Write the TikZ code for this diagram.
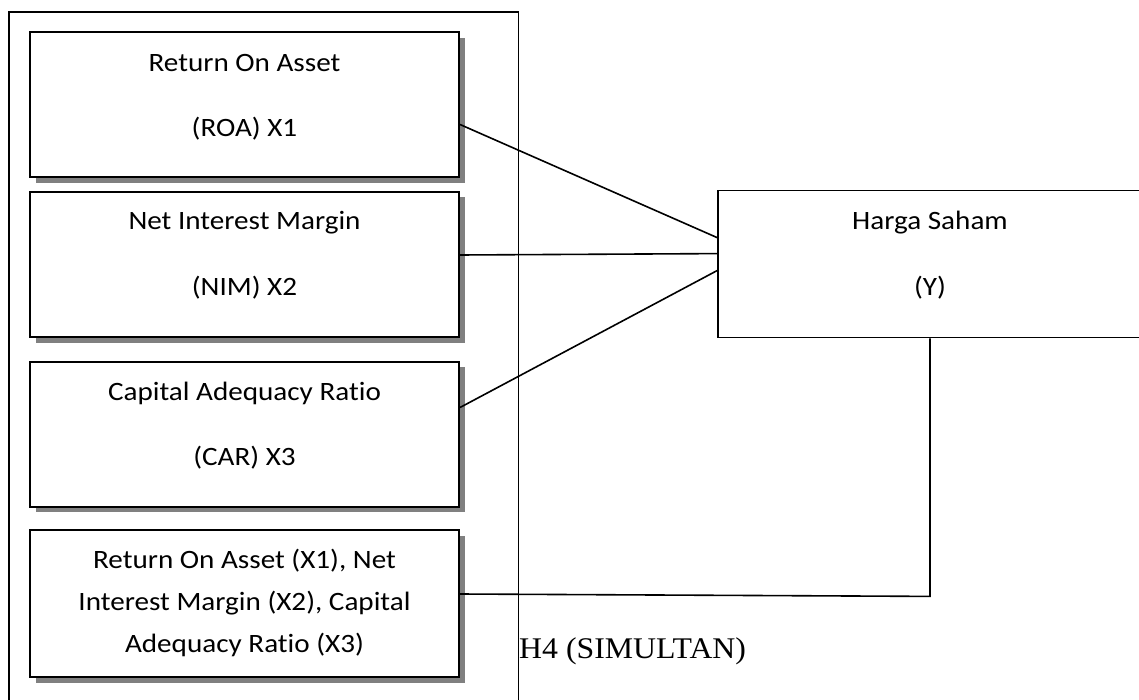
\documentclass[tikz,border=0pt]{standalone}
\usepackage{graphicx}
\usepackage{fontspec}
\setmainfont{Carlito}[Ligatures={NoCommon,NoRequired,NoContextual}]
\newfontfamily\timesfont{Liberation Serif}
\usetikzlibrary{calc,shadows}
\newcommand{\widetext}[1]{\scalebox{1.1}[1]{#1}}
\newcommand{\widetimes}[1]{\scalebox{1.06}[1]{#1}}
\tikzset{
  varbox/.style={draw=black, line width=2pt, fill=white, minimum width=429pt, minimum height=145pt, inner sep=0pt,
    drop shadow={shadow xshift=5.5pt, shadow yshift=-5.5pt, opacity=1, fill=gray}},
  ybox/.style={draw=black, line width=1.8pt, fill=white, minimum width=424pt, minimum height=147pt, inner sep=0pt},
  txt/.style={font=\fontsize{26.5}{30}\selectfont, inner sep=0pt, anchor=base},
  conn/.style={draw=black, line width=1.6pt}
}
\begin{document}
\begin{tikzpicture}[x=1pt,y=-1pt]
\useasboundingbox (0,0) rectangle (1139,700);
\clip (0,0) rectangle (1139,700);
\fill[white] (0,0) rectangle (1139,700);
% outer frame
\draw[line width=1.6pt] (9,12) rectangle (518.5,720);
% variable boxes
\node[varbox] (b1) at (244.5,105) {};
\node[varbox] (b2) at (244.5,264.5) {};
\node[varbox] (b3) at (244.5,434) {};
\node[varbox, minimum height=147pt] (b4) at (244.5,603.5) {};
\node[ybox] (y) at (930,264) {};
% texts
\node[txt] (t1a) at (244.5,72) {\widetext{Return On Asset}};
\node[txt] (t1b) at (244.5,137) {\widetext{(ROA) X1}};
\node[txt] (t2a) at (244.5,230) {\widetext{Net Interest Margin}};
\node[txt] (t2b) at (244.5,295) {\widetext{(NIM) X2}};
\node[txt] (t3a) at (244.5,400) {\widetext{Capital Adequacy Ratio}};
\node[txt] (t3b) at (244.5,465) {\widetext{(CAR) X3}};
\node[txt] (t4a) at (244.5,568) {\widetext{Return On Asset (X1), Net}};
\node[txt] (t4b) at (244.5,610) {\widetext{Interest Margin (X2), Capital}};
\node[txt] (t4c) at (244.5,652) {\widetext{Adequacy Ratio (X3)}};
\node[txt] (tya) at (930,230) {\widetext{Harga Saham}};
\node[txt] (tyb) at (930,295) {\widetext{(Y)}};
\node[font=\timesfont\fontsize{30}{34}\selectfont, inner sep=0pt, anchor=base west] (h4) at (519,658) {\widetimes{H4 (SIMULTAN)}};
% connectors
\coordinate (c4) at ($(y.south)+(0,258)$);
\draw[conn] ($(b1.north east)+(0,93)$) -- ($(y.north west)+(0,48)$);
\draw[conn] ($(b2.north east)+(0,64)$) -- ($(y.north west)+(0,64)$);
\draw[conn] ($(b3.north east)+(0,47)$) -- ($(y.north west)+(0,81)$);
\draw[conn] ($(b4.north east)+(0,65)$) -- (c4) -- (y.south);
\end{tikzpicture}
\end{document}
